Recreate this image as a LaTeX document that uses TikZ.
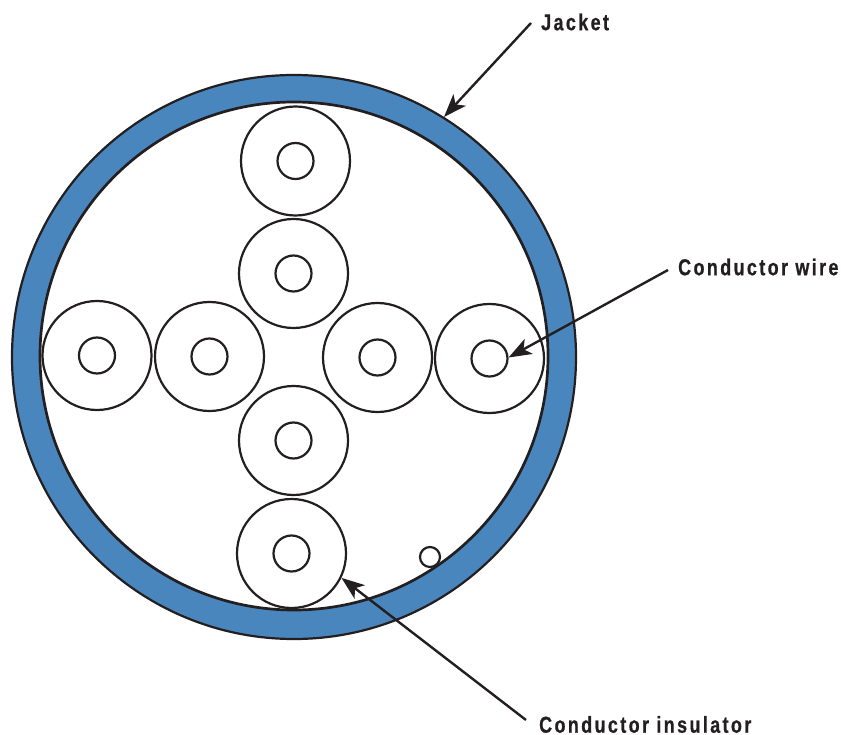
\documentclass[tikz,border=0pt]{standalone}
\usepackage{fontspec}
\setmainfont{Liberation Sans}[FakeStretch=0.78,LetterSpace=10.4,BoldFont={Liberation Sans Bold},BoldFeatures={FakeBold=0.6}]
\usetikzlibrary{arrows.meta}
\definecolor{jacketblue}{HTML}{4A86BE}
\definecolor{inkline}{HTML}{231F20}
\tikzset{
  x=1pt,y=-1pt,
  ring/.style={circle,draw=inkline,line width=2.2pt,inner sep=0pt,minimum size=#1},
  ins/.style={ring=109pt},
  wire/.style={ring=36pt},
  lbl/.style={font=\bfseries\fontsize{23}{26}\selectfont,text=inkline,inner sep=0pt,anchor=west},
  pointer/.style={draw=inkline,line width=2.4pt,-{Stealth[length=23pt,width=17pt,inset=6pt]}}
}
\begin{document}
\begin{tikzpicture}
\useasboundingbox (0,0) rectangle (841,735);
\fill[jacketblue,even odd rule] (294,357) circle[radius=282] (294,356) circle[radius=254];
\node[ring=564pt] (outer) at (294,357) {};
\node[ring=508pt,line width=2.7pt] (inner) at (294,356) {};
\foreach \n/\cx/\cy in {a/295.5/161,b/293.5/273.5,c/97/355.5,d/209.5/356.5,e/377.5/357.5,f/489.5/358.5,g/293.5/440.5,h/291.5/553.5}{
  \node[ins] (out-\n) at (\cx,\cy) {};
  \node[wire] (in-\n) at (\cx,\cy) {};
}
\node[ring=20pt] (small) at (430,557) {};
\node[lbl] (jacket) at (541,22) {Jacket};
\node[lbl] (cwire) at (678,267) {Conductor wire};
\node[lbl] (cins) at (539,724.5) {Conductor insulator};
\coordinate (jstart) at (531,23);
\coordinate (wstart) at (668,270);
\coordinate (istart) at (526,720);
\draw[pointer] (jstart) -- (outer.58);
\draw[pointer] (wstart) -- (in-f.3);
\draw[pointer] (istart) -- (out-h.-26);
\end{tikzpicture}
\end{document}
